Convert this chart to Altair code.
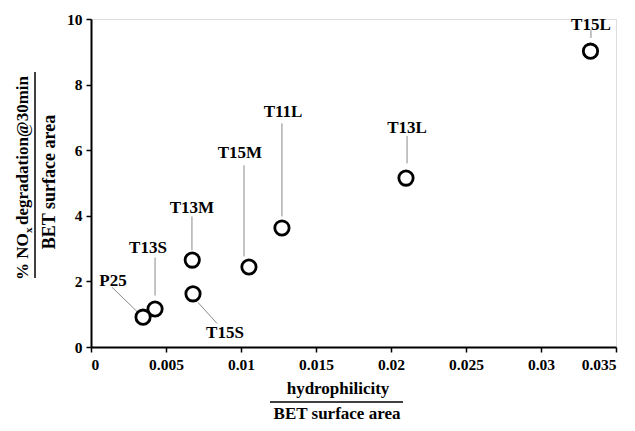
import altair as alt
import pandas as pd

# ---- data ----
names = ["T15L", "T13L", "T11L", "T15M", "T13M", "T15S", "T13S", "P25"]
hydro = [0.0333, 0.0210, 0.01273, 0.01053, 0.00675, 0.0068, 0.00427, 0.00347]
nox = [9.02, 5.15, 3.63, 2.44, 2.65, 1.62, 1.16, 0.91]

# annotation anchors (data units)
label_x = [0.03333, 0.02107, 0.0128, 0.00993, 0.00673, 0.00893, 0.0038, 0.00147]
label_y = [9.82, 6.67, 7.16, 5.91, 4.23, 0.44, 3.01, 2.0]
lead_x1 = [0.03333, 0.02107, 0.01273, 0.0102, 0.00673, 0.00713, 0.00427, 0.0014]
lead_y1 = [9.66, 6.43, 6.82, 5.54, 3.98, 1.36, 2.73, 1.82]
lead_x2 = [0.03333, 0.02107, 0.01273, 0.0102, 0.00673, 0.0084, 0.00427, 0.00307]
lead_y2 = [9.42, 5.60, 3.98, 2.76, 2.95, 0.72, 1.57, 1.08]

x_ticks = [0, 0.005, 0.01, 0.015, 0.02, 0.025, 0.03, 0.035]
y_ticks = list(range(0, 11))

df = pd.DataFrame({
    "name": names, "x": hydro, "y": nox,
    "lx": label_x, "ly": label_y,
    "x1": lead_x1, "y1": lead_y1, "x2": lead_x2, "y2": lead_y2,
})

FONT = "Liberation Serif"
W, H = 525, 328

xscale = alt.Scale(domain=[0, 0.035], nice=False)
yscale = alt.Scale(domain=[0, 10], nice=False)

xaxis = alt.Axis(values=x_ticks, format=".3~f", title=None, grid=False,
                 domainColor="black", domainWidth=2, tickColor="black",
                 tickWidth=1.5, tickSize=5, labelPadding=5,
                 labelFont=FONT, labelFontWeight="bold", labelFontSize=15.5,
                 labelColor="black")
yaxis = alt.Axis(values=y_ticks, labelExpr="datum.value % 2 == 0 ? datum.label : ''",
                 title=None, grid=False, domainColor="black", domainWidth=2,
                 tickColor="black", tickWidth=1.5, tickSize=5, labelPadding=4,
                 labelFont=FONT, labelFontWeight="bold", labelFontSize=15.5,
                 labelColor="black")

base = alt.Chart(df)

leaders = base.mark_rule(color="#8a8a8a", strokeWidth=1).encode(
    x=alt.X("x1:Q", scale=xscale, axis=xaxis),
    y=alt.Y("y1:Q", scale=yscale, axis=yaxis),
    x2="x2:Q", y2="y2:Q",
)

points = base.mark_point(shape="circle", filled=False, fill="white", fillOpacity=1,
                         stroke="black", strokeWidth=2.8, size=205, opacity=1).encode(
    x=alt.X("x:Q", scale=xscale),
    y=alt.Y("y:Q", scale=yscale),
)

labels = base.mark_text(font=FONT, fontWeight="bold", fontSize=17, color="black",
                        align="center", baseline="middle").encode(
    x=alt.X("lx:Q", scale=xscale),
    y=alt.Y("ly:Q", scale=yscale),
    text="name:N",
)

one = pd.DataFrame({"k": [0]})


def txt(t, x, y, size=17, angle=0, align="center", baseline="alphabetic"):
    return alt.Chart(one).mark_text(
        text=t, font=FONT, fontWeight="bold", fontSize=size, color="black",
        angle=angle, align=align, baseline=baseline,
    ).encode(x=alt.value(x), y=alt.value(y))


def bar(x1, x2, y1, y2):
    return alt.Chart(one).mark_rule(color="black", strokeWidth=1.5).encode(
        x=alt.value(x1), x2=alt.value(x2), y=alt.value(y1), y2=alt.value(y2))


# x-axis fraction title
xt1 = txt("hydrophilicity", 247, 375)
xbar = bar(179, 312, 383, 383)
xt2 = txt("BET surface area", 246, 400)

# y-axis fraction title (rotated)
yt1a = txt("% NO", -63, 261, angle=270, align="left")
yt1b = txt("x", -59, 214, size=11, angle=270, align="left")
yt1c = txt("degradation@30min", -63, 206, angle=270, align="left")
ybar = bar(-56, -56, 53, 259)
yt2 = txt("BET surface area", -36, 163, size=18, angle=270, align="center")

chart = alt.layer(
    leaders, points, labels, xt1, xbar, xt2, yt1a, yt1b, yt1c, ybar, yt2
).properties(
    width=W, height=H,
    autosize=alt.AutoSizeParams(type="none"),
    padding={"left": 83, "top": 11, "right": 11, "bottom": 76},
).configure_view(stroke=None).configure(background="white")

chart.save("out.html", embed_options={"renderer": "svg", "actions": False})
